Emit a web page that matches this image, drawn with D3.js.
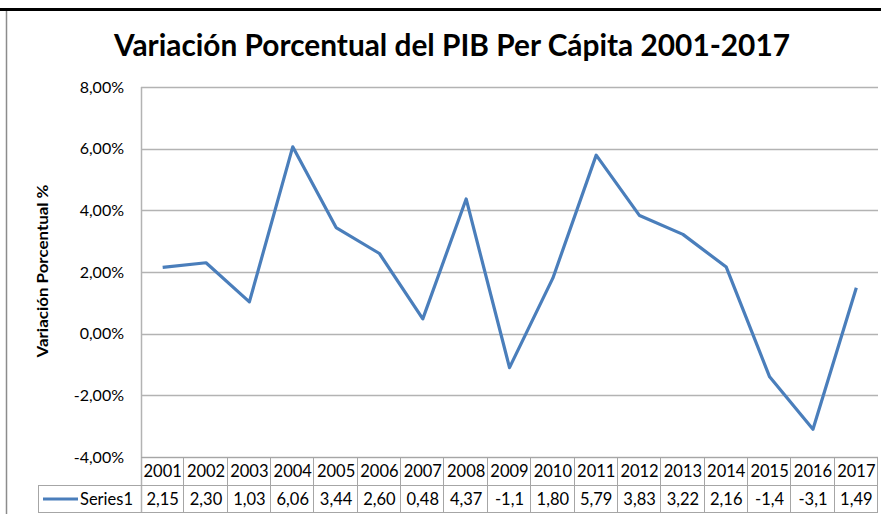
<!DOCTYPE html>
<html>
<head>
<meta charset="utf-8">
<script src="https://cdn.jsdelivr.net/npm/d3@7"></script>
<style>
  body { margin: 0; background: #fff; }
  svg { display: block; }
  text { font-family: Lato, "Liberation Sans", Arial, sans-serif; fill: #000; }
</style>
</head>
<body>
<svg id="chart" width="881" height="514"></svg>
<script>
const years = ["2001","2002","2003","2004","2005","2006","2007","2008","2009","2010","2011","2012","2013","2014","2015","2016","2017"];
const values = [2.15, 2.30, 1.03, 6.06, 3.44, 2.60, 0.48, 4.37, -1.1, 1.80, 5.79, 3.83, 3.22, 2.16, -1.4, -3.1, 1.49];
const tableLabels = ["2,15","2,30","1,03","6,06","3,44","2,60","0,48","4,37","-1,1","1,80","5,79","3,83","3,22","2,16","-1,4","-3,1","1,49"];
const yTicks = [-4, -2, 0, 2, 4, 6, 8];
const seriesName = "Series1";

const width = 881, height = 514;
const plot = { left: 141, right: 878, top: 87, bottom: 457 };
const rowH = 28;
const blue = "#4a7ebb";
const gridColor = "#b3b3b3";
const cellColor = "#a6a6a6";

const svg = d3.select("#chart");

// outer frame: thick black top rule and grey left edge
svg.append("line")
  .attr("x1", 0).attr("x2", width).attr("y1", 9.5).attr("y2", 9.5)
  .attr("stroke", "#000").attr("stroke-width", 3);
svg.append("line")
  .attr("x1", 6.5).attr("x2", 6.5).attr("y1", 11).attr("y2", height)
  .attr("stroke", "#8c8c8c").attr("stroke-width", 1.5);

// title
svg.append("text")
  .attr("x", 452).attr("y", 56)
  .attr("text-anchor", "middle")
  .attr("textLength", 676).attr("lengthAdjust", "spacingAndGlyphs")
  .style("font-weight", "bold").style("font-size", "31px")
  .text("Variación Porcentual del PIB Per Cápita 2001-2017");

const x = d3.scaleBand().domain(years).range([plot.left, plot.right]);
const y = d3.scaleLinear().domain([-4, 8]).range([plot.bottom, plot.top]);

// gridlines
svg.append("g")
  .selectAll("line")
  .data(yTicks)
  .join("line")
  .attr("x1", plot.left).attr("x2", plot.right)
  .attr("y1", d => Math.round(y(d)) + 0.5).attr("y2", d => Math.round(y(d)) + 0.5)
  .attr("stroke", gridColor).attr("stroke-width", 1.5);

// y axis labels
const fmt = d => d.toFixed(2).replace(".", ",") + "%";
svg.append("g")
  .selectAll("text")
  .data(yTicks)
  .join("text")
  .attr("x", 124).attr("y", d => y(d))
  .attr("dy", "0.36em")
  .attr("text-anchor", "end")
  .style("font-size", "16px")
  .text(fmt);

// y axis title
svg.append("text")
  .attr("transform", "translate(48,271) rotate(-90)")
  .attr("text-anchor", "middle")
  .attr("textLength", 173).attr("lengthAdjust", "spacingAndGlyphs")
  .style("font-weight", "bold").style("font-size", "16px")
  .text("Variación Porcentual %");

// left axis line, runs down through the table
svg.append("line")
  .attr("x1", plot.left + 0.5).attr("x2", plot.left + 0.5)
  .attr("y1", plot.top).attr("y2", plot.bottom + 2 * rowH)
  .attr("stroke", gridColor).attr("stroke-width", 1.5);

// data table
const table = svg.append("g").attr("stroke", cellColor).attr("fill", "none");
table.append("line")
  .attr("x1", plot.left).attr("x2", plot.right)
  .attr("y1", plot.bottom + 0.5).attr("y2", plot.bottom + 0.5);
table.append("line")
  .attr("x1", 38).attr("x2", plot.right)
  .attr("y1", plot.bottom + rowH + 0.5).attr("y2", plot.bottom + rowH + 0.5);
table.append("line")
  .attr("x1", 38).attr("x2", plot.right)
  .attr("y1", plot.bottom + 2 * rowH - 0.5).attr("y2", plot.bottom + 2 * rowH - 0.5);
table.append("line")
  .attr("x1", 38.5).attr("x2", 38.5)
  .attr("y1", plot.bottom + rowH).attr("y2", plot.bottom + 2 * rowH);
table.selectAll(".col")
  .data(years)
  .join("line")
  .attr("class", "col")
  .attr("x1", d => Math.round(x(d) + x.bandwidth()) - 0.5)
  .attr("x2", d => Math.round(x(d) + x.bandwidth()) - 0.5)
  .attr("y1", plot.bottom).attr("y2", plot.bottom + 2 * rowH);

svg.append("g")
  .selectAll("text")
  .data(years)
  .join("text")
  .attr("x", d => x(d) + x.bandwidth() / 2)
  .attr("y", plot.bottom + rowH / 2)
  .attr("dy", "0.36em")
  .attr("text-anchor", "middle")
  .style("font-size", "16.5px")
  .text(d => d);

svg.append("g")
  .selectAll("text")
  .data(tableLabels)
  .join("text")
  .attr("x", (d, i) => x(years[i]) + x.bandwidth() / 2)
  .attr("y", plot.bottom + rowH * 1.5)
  .attr("dy", "0.36em")
  .attr("text-anchor", "middle")
  .style("font-size", "16.5px")
  .text(d => d);

// legend key inside the table
svg.append("line")
  .attr("x1", 43).attr("x2", 78)
  .attr("y1", plot.bottom + rowH * 1.5).attr("y2", plot.bottom + rowH * 1.5)
  .attr("stroke", blue).attr("stroke-width", 3);
svg.append("text")
  .attr("x", 80).attr("y", plot.bottom + rowH * 1.5)
  .attr("dy", "0.36em")
  .style("font-size", "16.5px")
  .text(seriesName);

// series line
const line = d3.line()
  .x((d, i) => x(years[i]) + x.bandwidth() / 2)
  .y(d => y(d));
svg.append("path")
  .datum(values)
  .attr("d", line)
  .attr("fill", "none")
  .attr("stroke", blue)
  .attr("stroke-width", 3.2)
  .attr("stroke-linejoin", "round");
</script>
</body>
</html>
